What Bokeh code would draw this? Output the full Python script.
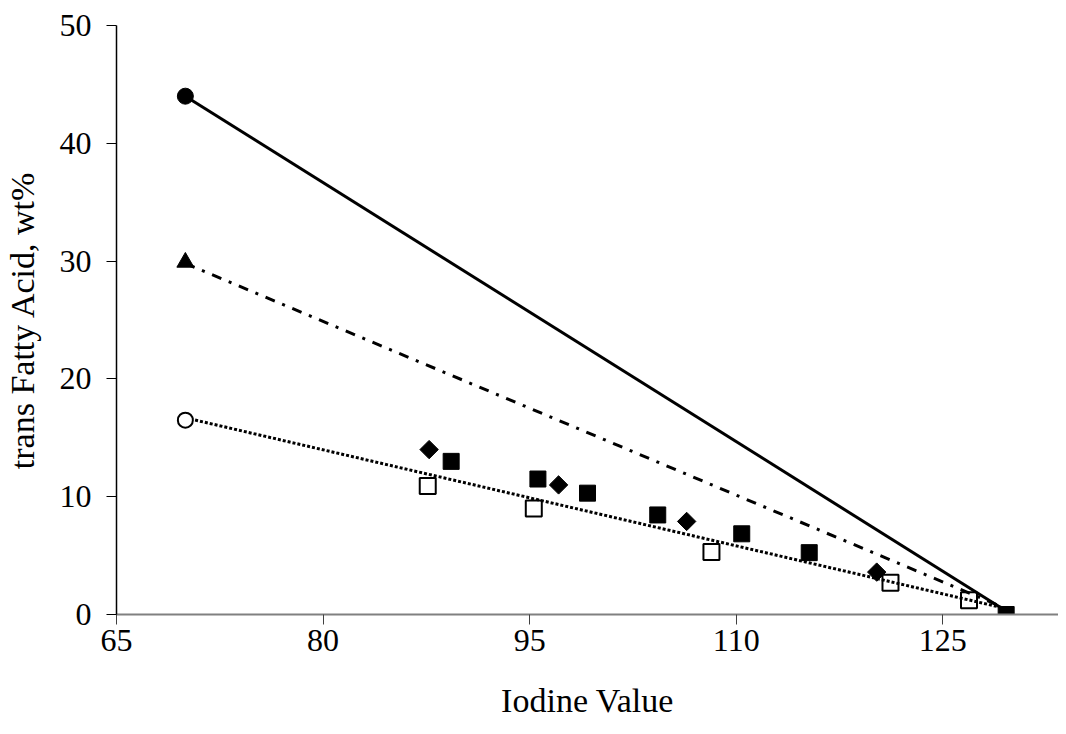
import math
from bokeh.plotting import figure
from bokeh.models import FixedTicker, Range1d
from bokeh.embed import file_html
from bokeh.resources import INLINE

# Data
x_ticks = [65, 80, 95, 110, 125]
y_ticks = [0, 10, 20, 30, 40, 50]

filled_circle_x = [70]
filled_circle_y = [44.0]
triangle_x = [70]
triangle_y = [29.9]
open_circle_x = [70]
open_circle_y = [16.5]

diamond_x = [87.7, 97.1, 106.4, 120.2]
diamond_y = [14.0, 11.0, 7.9, 3.6]

filled_square_x = [89.3, 95.6, 99.2, 104.3, 110.4, 115.3, 129.6]
filled_square_y = [13.0, 11.5, 10.3, 8.45, 6.85, 5.25, 0.0]

open_square_x = [87.6, 95.3, 108.2, 121.2, 126.9]
open_square_y = [10.9, 9.0, 5.3, 2.7, 1.2]

line_x = [70, 129.6]
solid_y = [44.0, 0.3]
dashdot_y = [29.8, 0.5]
dotted_y = [16.7, 0.5]

FONT = "Liberation Serif"

p = figure(
    frame_width=942, frame_height=589,
    min_border_left=116, min_border_right=0,
    min_border_top=25, min_border_bottom=115,
    x_range=Range1d(65, 133.4), y_range=Range1d(0, 50),
    output_backend="svg", toolbar_location=None,
    background_fill_color="white", border_fill_color="white",
)
p.outline_line_color = None
p.grid.visible = False

# open squares under the trend lines
p.scatter(open_square_x, open_square_y, marker="square", size=16,
          fill_color="white", line_color="black", line_width=2)

p.line(line_x, solid_y, line_color="black", line_width=3)
p.line(line_x, dashdot_y, line_color="black", line_width=3, line_dash="10 8 3 8")
p.line(line_x, dotted_y, line_color="black", line_width=3, line_dash="3 2")

p.scatter(filled_circle_x, filled_circle_y, marker="circle", size=16,
          fill_color="black", line_color="black")
p.scatter(triangle_x, triangle_y, marker="triangle", size=17,
          fill_color="black", line_color="black")
p.scatter(open_circle_x, open_circle_y, marker="circle", size=15,
          fill_color="white", line_color="black", line_width=2)
p.scatter(diamond_x, diamond_y, marker="square", angle=math.pi / 4, size=13,
          fill_color="black", line_color="black")
p.scatter(filled_square_x, filled_square_y, marker="square", size=16,
          fill_color="black", line_color="black")

# axes
p.xaxis.ticker = FixedTicker(ticks=x_ticks)
p.yaxis.ticker = FixedTicker(ticks=y_ticks)
p.xaxis.axis_label = "Iodine Value"
p.yaxis.axis_label = "trans Fatty Acid, wt%"

for ax in (p.xaxis, p.yaxis):
    ax.major_label_text_font = FONT
    ax.major_label_text_font_size = "32px"
    ax.major_label_text_color = "black"
    ax.axis_label_text_font = FONT
    ax.axis_label_text_font_size = "34px"
    ax.axis_label_text_font_style = "normal"
    ax.axis_label_text_color = "black"
    ax.minor_tick_line_color = None
    ax.major_tick_in = 0
    ax.major_tick_out = 10

p.xaxis.axis_line_color = "#808080"
p.xaxis.axis_line_width = 2
p.xaxis.major_tick_line_color = "#404040"
p.xaxis.major_label_standoff = 5
p.xaxis.axis_label_standoff = 28

p.yaxis.axis_line_color = "black"
p.yaxis.axis_line_width = 1.5
p.yaxis.major_tick_line_color = "black"
p.yaxis.major_label_standoff = 15
p.yaxis.axis_label_standoff = 16

open("out.html", "w").write(file_html(p, INLINE))
